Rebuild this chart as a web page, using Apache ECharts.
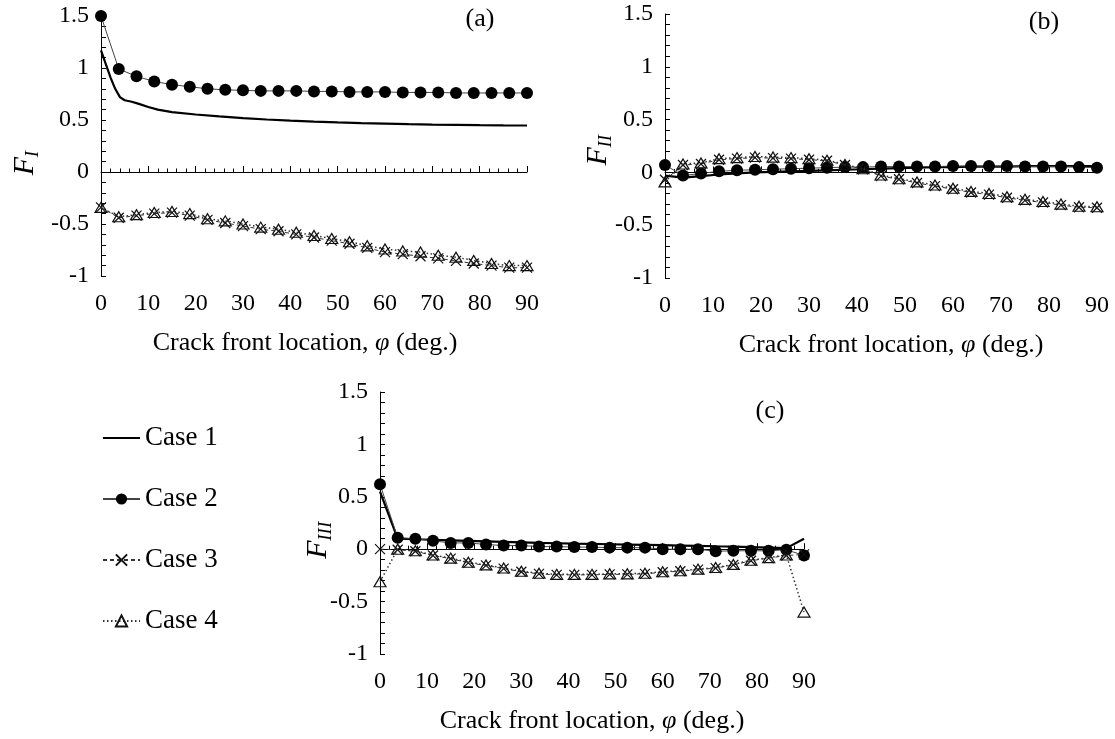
<!DOCTYPE html>
<html><head><meta charset="utf-8">
<script src="https://cdn.jsdelivr.net/npm/echarts@6/dist/echarts.min.js"></script>
<style>html,body{margin:0;padding:0;background:#fff}#c{width:1115px;height:739px}</style>
</head><body><div id="c"></div>
<script>
// ---------- data ----------
const phi = [0, 3.75, 7.5, 11.25, 15, 18.75, 22.5, 26.25, 30, 33.75, 37.5, 41.25, 45, 48.75, 52.5, 56.25, 60, 63.75, 67.5, 71.25, 75, 78.75, 82.5, 86.25, 90];
const phiCase1A = [0, 1, 2, 3, 4, 5, 6.5, 8, 10, 12, 15, 20, 25, 30, 35, 40, 45, 50, 55, 60, 65, 70, 75, 80, 85, 90];
const xTicks = [0, 10, 20, 30, 40, 50, 60, 70, 80, 90];
const yTicks = [-1, -0.5, 0, 0.5, 1, 1.5];
const caseNames = ['Case 1', 'Case 2', 'Case 3', 'Case 4'];

// (a) F_I
const fI_case1 = [1.17, 1.04, 0.91, 0.80, 0.72, 0.69, 0.675, 0.655, 0.625, 0.60, 0.575, 0.553, 0.535, 0.518, 0.505, 0.494, 0.485, 0.477, 0.47, 0.465, 0.46, 0.456, 0.453, 0.45, 0.448, 0.447];
const fI_case2 = [1.5, 0.99, 0.92, 0.87, 0.84, 0.82, 0.80, 0.79, 0.785, 0.78, 0.78, 0.78, 0.775, 0.775, 0.77, 0.77, 0.77, 0.765, 0.765, 0.765, 0.76, 0.76, 0.76, 0.76, 0.76];
const fI_case3 = [-0.34, -0.44, -0.42, -0.40, -0.39, -0.42, -0.46, -0.49, -0.52, -0.55, -0.57, -0.60, -0.63, -0.66, -0.69, -0.73, -0.77, -0.79, -0.81, -0.83, -0.855, -0.88, -0.90, -0.92, -0.92];
const fI_case4 = [-0.34, -0.43, -0.41, -0.39, -0.38, -0.40, -0.45, -0.47, -0.50, -0.53, -0.55, -0.58, -0.61, -0.64, -0.67, -0.71, -0.74, -0.76, -0.77, -0.80, -0.82, -0.85, -0.88, -0.90, -0.90];

// (b) F_II
const fII_case1 = [-0.03, -0.05, -0.035, -0.02, -0.01, 0.0, 0.005, 0.01, 0.015, 0.02, 0.025, 0.03, 0.035, 0.04, 0.045, 0.05, 0.05, 0.055, 0.055, 0.055, 0.06, 0.06, 0.06, 0.06, 0.06];
const fII_case2 = [0.07, -0.03, -0.01, 0.01, 0.02, 0.025, 0.03, 0.035, 0.04, 0.045, 0.05, 0.05, 0.055, 0.055, 0.055, 0.055, 0.06, 0.06, 0.06, 0.06, 0.055, 0.055, 0.055, 0.05, 0.045];
const fII_case3 = [-0.07, 0.07, 0.08, 0.12, 0.13, 0.14, 0.135, 0.13, 0.12, 0.11, 0.07, 0.03, -0.035, -0.065, -0.10, -0.13, -0.16, -0.19, -0.21, -0.24, -0.265, -0.285, -0.31, -0.33, -0.335];
const fII_case4 = [-0.09, 0.08, 0.09, 0.13, 0.14, 0.15, 0.145, 0.14, 0.13, 0.115, 0.075, 0.035, -0.025, -0.06, -0.09, -0.12, -0.15, -0.18, -0.20, -0.23, -0.255, -0.275, -0.30, -0.32, -0.325];

// (c) F_III
const fIII_case1 = [0.55, 0.10, 0.095, 0.09, 0.085, 0.08, 0.075, 0.07, 0.065, 0.06, 0.057, 0.053, 0.05, 0.047, 0.044, 0.041, 0.038, 0.035, 0.032, 0.028, 0.025, 0.02, 0.015, 0.01, 0.10];
const fIII_case2 = [0.62, 0.11, 0.10, 0.08, 0.06, 0.06, 0.045, 0.035, 0.035, 0.025, 0.025, 0.02, 0.02, 0.015, 0.015, 0.015, 0.0, 0.0, 0.0, -0.02, -0.015, -0.015, -0.015, -0.005, -0.06];
const fIII_case3 = [0.0, -0.005, -0.02, -0.06, -0.09, -0.13, -0.155, -0.185, -0.215, -0.235, -0.245, -0.245, -0.245, -0.24, -0.24, -0.235, -0.22, -0.21, -0.195, -0.18, -0.15, -0.11, -0.085, -0.06, -0.05];
const fIII_case4 = [-0.31, 0.0, -0.015, -0.055, -0.085, -0.125, -0.15, -0.18, -0.21, -0.23, -0.24, -0.24, -0.24, -0.235, -0.235, -0.23, -0.215, -0.205, -0.19, -0.175, -0.145, -0.105, -0.08, -0.055, -0.60];

// ---------- chart ----------
const FONT = 'Liberation Serif';
const grids = [
  {left: 101, top: 16, width: 426, height: 260},
  {left: 665, top: 14, width: 432, height: 264},
  {left: 380, top: 392, width: 424, height: 262}
];
const titlePads = [[0, 18, 0, 0], [0, 0, 0, 20], [0, 0, 0, 0]];

const xAxes = [], yAxes = [];
grids.forEach((g, i) => {
  xAxes.push({
    type: 'value', gridIndex: i, min: xTicks[0], max: xTicks[xTicks.length - 1], interval: xTicks[1] - xTicks[0],
    axisLine: {show: true, onZero: true, lineStyle: {color: '#000', width: 1}},
    axisTick: {show: true, inside: true, length: 6, lineStyle: {color: '#000', width: 1}},
    minorTick: {show: true, splitNumber: 5, length: 3.5, lineStyle: {color: '#000', width: 1}},
    axisLabel: {show: false}, splitLine: {show: false}
  });
  xAxes.push({
    type: 'value', gridIndex: i, position: 'bottom', min: xTicks[0], max: xTicks[xTicks.length - 1], interval: xTicks[1] - xTicks[0],
    axisLine: {show: false, onZero: false}, axisTick: {show: false}, splitLine: {show: false},
    axisLabel: {show: true, margin: 16, fontFamily: FONT, fontSize: 24, color: '#000'},
    name: 'Crack front location, {i|φ} (deg.)', nameLocation: 'middle', nameGap: 54,
    nameTextStyle: {fontFamily: FONT, fontSize: 26, color: '#000', padding: titlePads[i],
      rich: {i: {fontFamily: FONT, fontSize: 26, fontStyle: 'italic', color: '#000'}}}
  });
  yAxes.push({
    type: 'value', gridIndex: i, min: yTicks[0], max: yTicks[yTicks.length - 1], interval: yTicks[1] - yTicks[0],
    axisLine: {show: true, lineStyle: {color: '#000', width: 1}},
    axisTick: {show: true, inside: true, length: 5, lineStyle: {color: '#000', width: 1}},
    minorTick: {show: true, splitNumber: 5, length: 5, lineStyle: {color: '#000', width: 1}},
    axisLabel: {margin: 12, fontFamily: FONT, fontSize: 24, color: '#000'},
    splitLine: {show: false}
  });
});

const styles = [
  {symbol: 'none', itemStyle: {color: 'rgba(0,0,0,0)'}, lineStyle: {color: '#000', width: 2.2}, z: 3},
  {symbol: 'circle', symbolSize: 12, itemStyle: {color: '#000'}, lineStyle: {color: '#444', width: 1}, z: 4},
  {symbol: 'path://M0,0L10,10M10,0L0,10', symbolSize: 10,
   itemStyle: {color: 'rgba(0,0,0,0)', borderColor: '#111', borderWidth: 1.2},
   lineStyle: {color: '#333', width: 1, type: [4, 3]}, z: 5},
  {symbol: 'triangle', symbolSize: [12, 10],
   itemStyle: {color: 'rgba(0,0,0,0)', borderColor: '#111', borderWidth: 1.2},
   lineStyle: {color: '#333', width: 1.5, type: [1.5, 2.5]}, z: 6}
];

const panels = [
  [[phiCase1A, fI_case1], [phi, fI_case2], [phi, fI_case3], [phi, fI_case4]],
  [[phi, fII_case1], [phi, fII_case2], [phi, fII_case3], [phi, fII_case4]],
  [[phi, fIII_case1], [phi, fIII_case2], [phi, fIII_case3], [phi, fIII_case4]]
];

const series = [];
panels.forEach((p, gi) => {
  p.forEach((pair, ci) => {
    const xs = pair[0], ys = pair[1];
    series.push(Object.assign({
      type: 'line', name: caseNames[ci], xAxisIndex: 2 * gi, yAxisIndex: gi,
      data: xs.map((x, k) => [x, ys[k]]), showSymbol: styles[ci].symbol !== 'none',
      animation: false, silent: true
    }, styles[ci]));
  });
});

function fLabel(cx, cy, sub) {
  const fw = 18, sw = sub.length * 6.5, total = fw + sw;
  return {type: 'group', x: cx, y: cy, rotation: Math.PI / 2, children: [
    {type: 'text', x: -total / 2, y: 0, style: {text: 'F', fontFamily: FONT, fontSize: 30, fontStyle: 'italic', fill: '#000', verticalAlign: 'middle'}},
    {type: 'text', x: -total / 2 + fw, y: 8, style: {text: sub, fontFamily: FONT, fontSize: 19, fontStyle: 'italic', fill: '#000', verticalAlign: 'middle'}}
  ]};
}
function tag(x, y, t) {
  return {type: 'text', x, y, style: {text: t, fontFamily: FONT, fontSize: 26, fill: '#000', align: 'center', verticalAlign: 'middle'}};
}

const chart = echarts.init(document.getElementById('c'), null, {renderer: 'canvas'});
chart.setOption({
  backgroundColor: '#fff',
  animation: false,
  grid: grids,
  xAxis: xAxes,
  yAxis: yAxes,
  legend: {
    orient: 'vertical', left: 97, top: 418, itemWidth: 37, itemHeight: 14, itemGap: 31,
    selectedMode: false, data: caseNames,
    textStyle: {fontFamily: FONT, fontSize: 27, color: '#000', lineHeight: 30}
  },
  series: series,
  graphic: [
    fLabel(25, 163, 'I'), fLabel(598, 150, 'II'), fLabel(318, 540, 'III'),
    tag(480, 19, '(a)'), tag(1044, 22, '(b)'), tag(770, 411, '(c)')
  ]
});
</script></body></html>
